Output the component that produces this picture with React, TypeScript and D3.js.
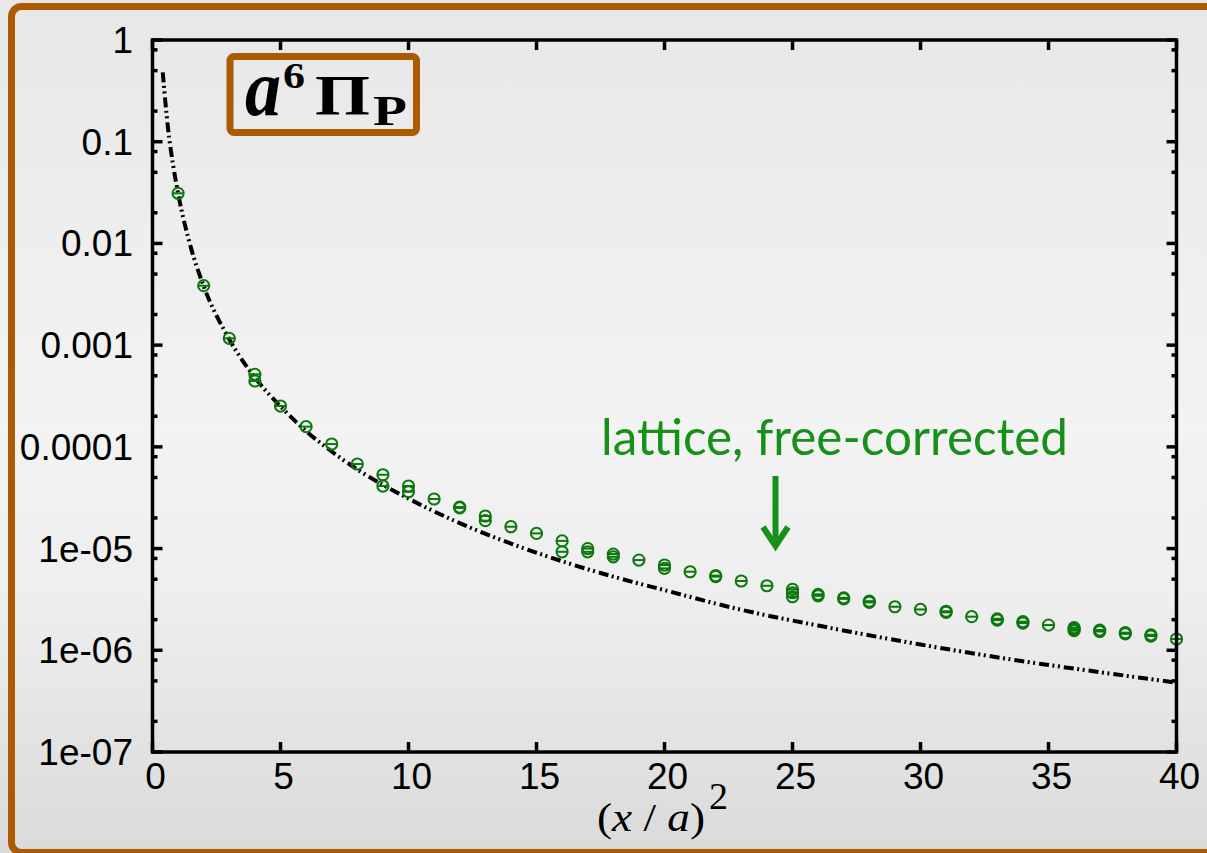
import React from "react";
import * as d3 from "d3";

// Lattice correlator, free-corrected: (x/a)^2 and a^6 Pi_P values
const latticeT = [
  1, 2, 3, 4, 4, 5, 6, 7, 8, 9, 9, 10, 10, 11, 12, 12, 13, 13, 14, 15, 16, 16,
  17, 17, 18, 18, 19, 20, 20, 21, 22, 22, 23, 24, 25, 25, 25, 26, 26, 27, 27,
  28, 28, 29, 30, 31, 31, 32, 33, 33, 34, 34, 35, 36, 36, 36, 37, 37, 38, 38,
  39, 39, 40,
];
const latticeValues = [
  3.11e-2, 3.84e-3, 1.167e-3, 5.16e-4, 4.44e-4, 2.52e-4, 1.58e-4, 1.066e-4,
  6.78e-5, 5.32e-5, 4.12e-5, 4.12e-5, 3.62e-5, 3.07e-5, 2.56e-5, 2.51e-5,
  2.09e-5, 1.88e-5, 1.64e-5, 1.41e-5, 1.19e-5, 9.3e-6, 1.0e-5, 9.3e-6, 8.83e-6,
  8.3e-6, 7.71e-6, 6.89e-6, 6.39e-6, 5.92e-6, 5.42e-6, 5.3e-6, 4.8e-6, 4.31e-6,
  3.97e-6, 3.68e-6, 3.36e-6, 3.55e-6, 3.43e-6, 3.28e-6, 3.2e-6, 3.04e-6,
  2.96e-6, 2.68e-6, 2.52e-6, 2.42e-6, 2.36e-6, 2.14e-6, 2.04e-6, 1.98e-6,
  1.91e-6, 1.85e-6, 1.77e-6, 1.67e-6, 1.61e-6, 1.56e-6, 1.58e-6, 1.53e-6,
  1.49e-6, 1.45e-6, 1.42e-6, 1.38e-6, 1.29e-6,
];

// Free continuum correlator (dash-dot-dot curve)
const freeT = [
  0.4, 0.5, 0.6, 0.8, 1, 1.5, 2, 3, 4, 5, 6, 7, 8, 10, 12, 14, 16, 18, 20, 23,
  26, 30, 34, 37, 40,
];
const freeValues = [
  0.48, 0.25, 0.14, 0.06, 0.031, 0.0091, 0.0038, 0.00114, 0.00048, 0.00025,
  0.000143, 0.00009, 0.00006, 0.000031, 0.0000178, 0.0000112, 0.0000075,
  0.0000053, 0.0000039, 0.0000025, 0.00000175, 0.00000114, 0.00000078,
  0.00000061, 0.00000048,
];

const xTicks = [0, 5, 10, 15, 20, 25, 30, 35, 40];
const yTicks = [1, 0.1, 0.01, 0.001, 0.0001, 1e-5, 1e-6, 1e-7];
const yTickLabels = ["1", "0.1", "0.01", "0.001", "0.0001", "1e-05", "1e-06", "1e-07"];
const yMinorFactors = [2, 5, 8];

const W = 1207;
const H = 853;
const frameColor = "#ad5b00";
const pointColor = "#0a780a";
const noteColor = "#17901a";

export default function App() {
  const x = d3.scaleLinear().domain([0, 40]).range([152.5, 1176.5]);
  const y = d3.scaleLog().domain([1e-7, 1]).range([752, 40]);
  const [x0, x1] = x.range();
  const [yb, yt] = y.range();

  const minorY: number[] = [];
  yTicks.slice(1).forEach((d) => yMinorFactors.forEach((f) => minorY.push(d * f)));

  const curve = d3
    .line<number>()
    .x((_, i) => x(freeT[i]))
    .y((d) => y(d))
    .curve(d3.curveMonotoneX)(freeValues) as string;

  const tickFont = "'Liberation Sans', Arial, Helvetica, sans-serif";

  return (
    <svg
      width={W}
      height={H}
      viewBox={`0 0 ${W} ${H}`}
      style={{ position: "absolute", left: 0, top: 0, display: "block" }}
    >
      <defs>
        <linearGradient id="bg" x1="0" y1="0" x2="0" y2="1">
          <stop offset="0" stopColor="#e7e7e7" />
          <stop offset="0.2" stopColor="#ececec" />
          <stop offset="0.5" stopColor="#f3f3f3" />
          <stop offset="0.7" stopColor="#eeeeee" />
          <stop offset="1" stopColor="#dadada" />
        </linearGradient>
      </defs>
      <rect x={0} y={0} width={W} height={H} fill="url(#bg)" />
      <rect
        x={11.5}
        y={6.5}
        width={W + 40}
        height={846}
        rx={10}
        fill="none"
        stroke={frameColor}
        strokeWidth={7}
      />

      {/* free curve */}
      <path
        d={curve}
        fill="none"
        stroke="#000"
        strokeWidth={4}
        strokeDasharray="10,3.5,2,3.5,2,4"
      />

      {/* lattice points */}
      <g stroke={pointColor} strokeWidth={2} fill="none">
        {latticeValues.map((v, i) => {
          const cx = x(latticeT[i]);
          const cy = y(v);
          return (
            <g key={i}>
              <circle cx={cx} cy={cy} r={5.6} />
              <line x1={cx - 5.6} x2={cx + 5.6} y1={cy} y2={cy} />
            </g>
          );
        })}
      </g>

      {/* axes frame */}
      <g stroke="#000" strokeWidth={3.5} fill="none">
        <rect x={x0} y={yt} width={x1 - x0} height={yb - yt} />
        {xTicks.map((t) => (
          <g key={"xt" + t}>
            <line x1={x(t)} x2={x(t)} y1={yb} y2={yb - 10} />
            <line x1={x(t)} x2={x(t)} y1={yt} y2={yt + 10} />
          </g>
        ))}
        {yTicks.map((t) => (
          <g key={"yt" + t}>
            <line x1={x0} x2={x0 + 10} y1={y(t)} y2={y(t)} />
            <line x1={x1} x2={x1 - 10} y1={y(t)} y2={y(t)} />
          </g>
        ))}
        {minorY.map((t, i) => (
          <g key={"ym" + i}>
            <line x1={x0} x2={x0 + 5} y1={y(t)} y2={y(t)} />
            <line x1={x1} x2={x1 - 5} y1={y(t)} y2={y(t)} />
          </g>
        ))}
      </g>

      {/* tick labels */}
      <g fontFamily={tickFont} fontSize={37} fill="#000">
        {xTicks.map((t) => (
          <text key={"xl" + t} x={x(t) + 3} y={789} textAnchor="middle">
            {t}
          </text>
        ))}
        {yTicks.map((t, i) => (
          <text key={"yl" + t} x={133} y={y(t) + 13} textAnchor="end">
            {yTickLabels[i]}
          </text>
        ))}
      </g>

      {/* x axis title */}
      <text
        x={597}
        y={831}
        fontFamily="'Liberation Serif', 'Times New Roman', serif"
        fontSize={39}
        fill="#000"
        textLength={108}
        lengthAdjust="spacingAndGlyphs"
      >
        (<tspan fontStyle="italic">x</tspan> / <tspan fontStyle="italic">a</tspan>)
      </text>
      <text
        x={709}
        y={809}
        fontFamily="'Liberation Serif', 'Times New Roman', serif"
        fontSize={38}
        fill="#000"
      >
        2
      </text>

      {/* observable label */}
      <rect
        x={230}
        y={56.5}
        width={186.5}
        height={76}
        rx={4}
        fill="none"
        stroke={frameColor}
        strokeWidth={7}
      />
      <g fontFamily="'Liberation Serif', 'Times New Roman', serif" fontWeight="bold" fill="#000">
        <text x={245} y={115} fontSize={80} fontStyle="italic" textLength={36} lengthAdjust="spacingAndGlyphs">
          a
        </text>
        <text x={283} y={88} fontSize={36} textLength={22} lengthAdjust="spacingAndGlyphs">
          6
        </text>
        <text x={315} y={115} fontSize={56} textLength={55} lengthAdjust="spacingAndGlyphs">
          Π
        </text>
        <text x={373} y={125} fontSize={42} textLength={34} lengthAdjust="spacingAndGlyphs">
          P
        </text>
      </g>

      {/* annotation */}
      <text
        x={601}
        y={455}
        fontFamily="Lato, 'Open Sans', sans-serif"
        fontSize={50}
        fill={noteColor}
        textLength={467}
        lengthAdjust="spacingAndGlyphs"
      >
        lattice, free-corrected
      </text>
      <g stroke={noteColor} strokeWidth={6} fill="none">
        <line x1={775.5} x2={775.5} y1={476} y2={540} />
        <path d="M763,527 L775.5,546 L788,527" strokeLinejoin="miter" />
      </g>
    </svg>
  );
}
